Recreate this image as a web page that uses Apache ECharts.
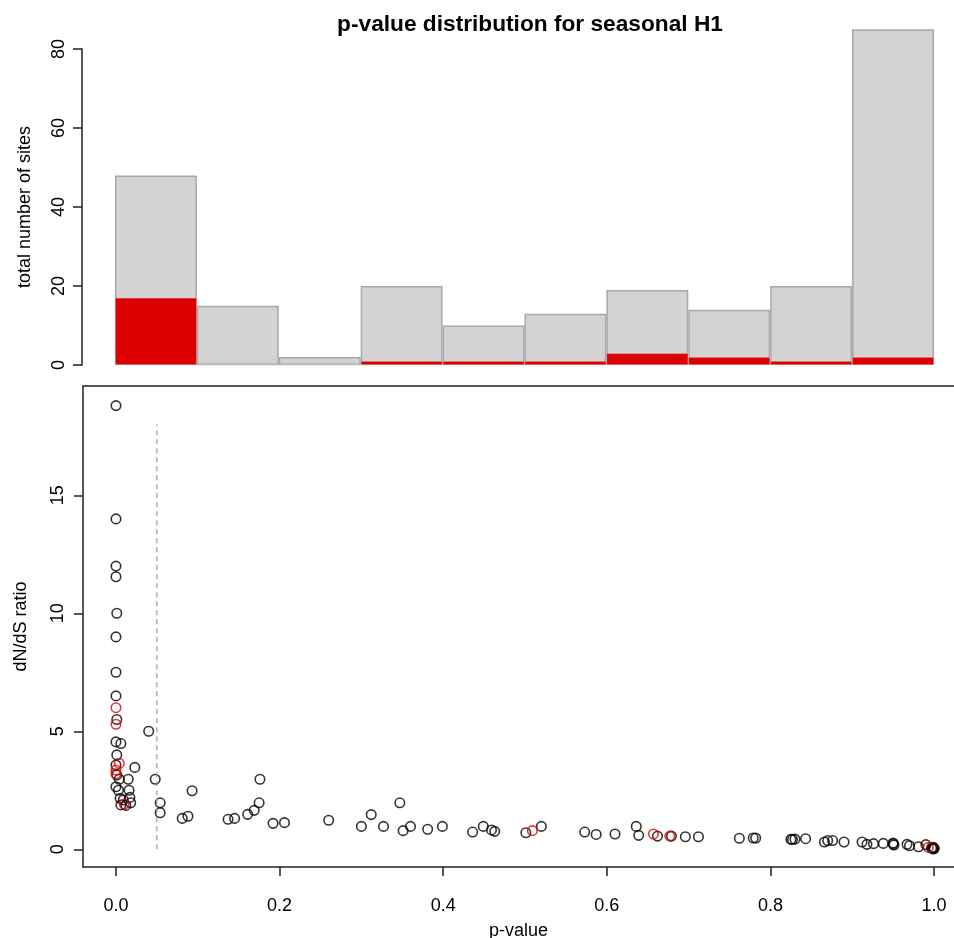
<!DOCTYPE html>
<html>
<head>
<meta charset="utf-8">
<script src="https://cdn.jsdelivr.net/npm/echarts@6/dist/echarts.min.js"></script>
<style>
html,body{margin:0;padding:0;background:#fff;}
#chart{width:954px;height:938px;}
</style>
</head>
<body>
<div id="chart"></div>
<script>
// ---- data ----
const histBins = ['0.0-0.1','0.1-0.2','0.2-0.3','0.3-0.4','0.4-0.5','0.5-0.6','0.6-0.7','0.7-0.8','0.8-0.9','0.9-1.0'];
const histTotal = [48, 15, 2, 20, 10, 13, 19, 14, 20, 85];
const histRed = [17, 0, 0, 1, 1, 1, 3, 2, 1, 2];
const histTicks = [0, 20, 40, 60, 80];
const pTicks = [0, 0.2, 0.4, 0.6, 0.8, 1.0];
const ratioTicks = [0, 5, 10, 15];
const cutoffLine = [[0.05, 0], [0.05, 18]];
const blackPoints = [
  [0.0, 18.8], [0.0, 14.0], [0.0, 12.0], [0.0, 11.55], [0.001, 10.0], [0.0, 9.0], [0.0, 7.5],
  [0.0, 6.5], [0.001, 5.5], [0.0, 4.55], [0.006, 4.48], [0.040, 5.0], [0.001, 4.0], [0.0, 3.57],
  [0.023, 3.47], [0.001, 3.15], [0.004, 2.97], [0.015, 2.97], [0.048, 2.97], [0.0, 2.65],
  [0.003, 2.5], [0.016, 2.5], [0.005, 2.16], [0.017, 2.2], [0.009, 2.09], [0.018, 1.97],
  [0.006, 1.88], [0.012, 1.86], [0.054, 1.97], [0.054, 1.55],
  [0.093, 2.48], [0.081, 1.31], [0.088, 1.40], [0.137, 1.27], [0.145, 1.31], [0.161, 1.48],
  [0.169, 1.65], [0.175, 1.97], [0.176, 2.97], [0.192, 1.10], [0.206, 1.13], [0.260, 1.23],
  [0.300, 0.97], [0.312, 1.47], [0.327, 0.97], [0.347, 1.97], [0.351, 0.79], [0.360, 0.97],
  [0.381, 0.85], [0.399, 0.97], [0.436, 0.73], [0.449, 0.97], [0.459, 0.82], [0.463, 0.76],
  [0.501, 0.70], [0.520, 0.97], [0.573, 0.73], [0.587, 0.63], [0.610, 0.65], [0.636, 0.97],
  [0.639, 0.59], [0.662, 0.56], [0.679, 0.56], [0.696, 0.53], [0.712, 0.53], [0.762, 0.47],
  [0.779, 0.48], [0.782, 0.48], [0.825, 0.42], [0.827, 0.42], [0.830, 0.43], [0.843, 0.45],
  [0.866, 0.31], [0.870, 0.37], [0.876, 0.37], [0.890, 0.31], [0.912, 0.31], [0.918, 0.21],
  [0.926, 0.24], [0.938, 0.25], [0.950, 0.27], [0.950, 0.22], [0.951, 0.18], [0.967, 0.21],
  [0.970, 0.15], [0.981, 0.11], [0.990, 0.20], [0.997, 0.06], [0.998, 0.03], [0.999, 0.08],
  [1.0, 0.02], [1.0, 0.05]
];
const redPoints = [
  [0.0, 6.0], [0.0, 5.3], [0.004, 3.64], [0.0, 3.36], [0.0, 3.2], [0.010, 1.92],
  [0.509, 0.79], [0.657, 0.65], [0.677, 0.56], [0.993, 0.08]
];

// ---- chart ----
const FONT = 'Liberation Sans, Arial, Helvetica, sans-serif';
const chart = echarts.init(document.getElementById('chart'), null, {renderer: 'canvas'});
const xMin = -0.0403, xMax = 1.0244;
const AX = '#222';
const option = {
  animation: false,
  backgroundColor: '#fff',
  textStyle: {fontFamily: FONT},
  title: {
    text: 'p-value distribution for seasonal H1',
    left: 525, top: 8, textAlign: 'center',
    textStyle: {fontFamily: FONT, fontSize: 22.7, fontWeight: 'bold', color: '#000'}
  },
  grid: [
    {left: 115, right: 20, top: 49, height: 316, outerBoundsMode: 'none', containLabel: false},
    {left: 83, right: 0, top: 386, bottom: 71, outerBoundsMode: 'none', containLabel: false}
  ],
  xAxis: [
    {type: 'category', gridIndex: 0, data: histBins, show: false, boundaryGap: true},
    {type: 'value', gridIndex: 1, min: xMin, max: xMax, position: 'bottom',
     name: 'p-value', nameLocation: 'middle', nameGap: 55,
     nameTextStyle: {fontFamily: FONT, fontSize: 18, color: '#000'},
     axisLine: {show: true, onZero: false, lineStyle: {color: AX, width: 1.5}},
     axisTick: {show: true, length: 9, lineStyle: {color: AX, width: 1.5}, customValues: pTicks},
     axisLabel: {show: true, fontFamily: FONT, fontSize: 18, color: '#000', margin: 30, customValues: pTicks,
       formatter: v => Number(v).toFixed(1)},
     splitLine: {show: false}},
    {type: 'value', gridIndex: 1, min: xMin, max: xMax, position: 'top',
     axisLine: {show: true, onZero: false, lineStyle: {color: AX, width: 1.5}},
     axisTick: {show: false}, axisLabel: {show: false}, splitLine: {show: false}}
  ],
  yAxis: [
    {type: 'value', gridIndex: 0, min: 0, max: 80, interval: 20, offset: 33,
     name: 'total number of sites', nameLocation: 'middle', nameGap: 48, nameRotate: 90,
     nameTextStyle: {fontFamily: FONT, fontSize: 18, color: '#000'},
     axisLine: {show: true, onZero: false, lineStyle: {color: AX, width: 1.5}},
     axisTick: {show: true, length: 9, lineStyle: {color: AX, width: 1.5}},
     axisLabel: {fontFamily: FONT, fontSize: 18, color: '#000', rotate: 90, margin: 14},
     splitLine: {show: false}},
    {type: 'value', gridIndex: 1, min: -0.75, max: 19.63,
     name: 'dN/dS ratio', nameLocation: 'middle', nameGap: 53, nameRotate: 90,
     nameTextStyle: {fontFamily: FONT, fontSize: 18, color: '#000'},
     axisLine: {show: true, onZero: false, lineStyle: {color: AX, width: 1.5}},
     axisTick: {show: true, length: 9, lineStyle: {color: AX, width: 1.5}, customValues: ratioTicks},
     axisLabel: {fontFamily: FONT, fontSize: 18, color: '#000', rotate: 90, margin: 16, customValues: ratioTicks},
     splitLine: {show: false}}
  ],
  series: [
    {type: 'bar', xAxisIndex: 0, yAxisIndex: 0, data: histTotal, barWidth: '100%', barGap: '-100%',
     clip: false, itemStyle: {color: '#d3d3d3', borderColor: '#a8a8a8', borderWidth: 1.5}},
    {type: 'bar', xAxisIndex: 0, yAxisIndex: 0, data: histRed, barWidth: '100%', barGap: '-100%',
     clip: false, itemStyle: {color: '#dd0000', borderColor: '#d3d3d3', borderWidth: 0.5}},
    {type: 'line', xAxisIndex: 1, yAxisIndex: 1, data: cutoffLine, symbol: 'none',
     lineStyle: {color: '#999', width: 1.2, type: [5, 4]}},
    {type: 'scatter', xAxisIndex: 1, yAxisIndex: 1, data: blackPoints, symbol: 'circle', symbolSize: 9.5,
     itemStyle: {color: 'rgba(0,0,0,0)', borderColor: '#000', borderWidth: 1.6}},
    {type: 'scatter', xAxisIndex: 1, yAxisIndex: 1, data: redPoints, symbol: 'circle', symbolSize: 9.5,
     itemStyle: {color: 'rgba(0,0,0,0)', borderColor: '#e00000', borderWidth: 1.6}}
  ]
};
chart.setOption(option);
</script>
</body>
</html>
